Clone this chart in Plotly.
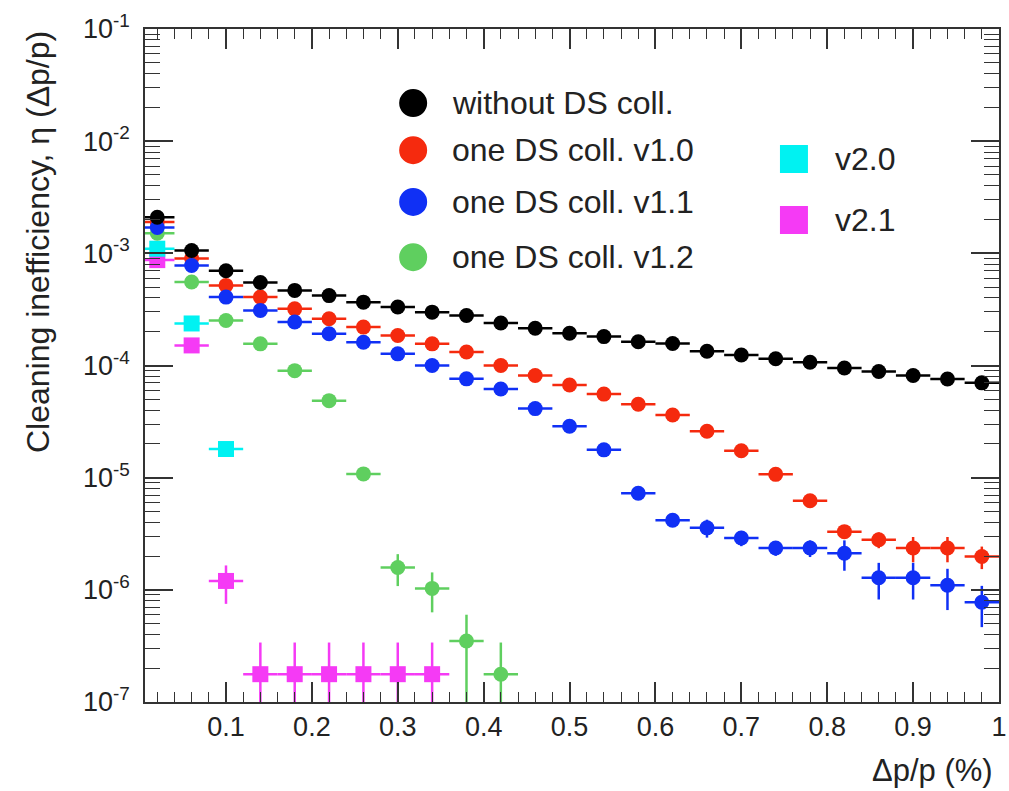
import plotly.graph_objects as go

# ---------------- data ----------------
x_bins = [0.02, 0.06, 0.10, 0.14, 0.18, 0.22, 0.26, 0.30, 0.34, 0.38, 0.42, 0.46, 0.50,
          0.54, 0.58, 0.62, 0.66, 0.70, 0.74, 0.78, 0.82, 0.86, 0.90, 0.94, 0.98]
x_half_width = 0.02

without_ds = [2.1e-3, 1.06e-3, 7.0e-4, 5.5e-4, 4.67e-4, 4.2e-4, 3.67e-4, 3.32e-4, 2.99e-4,
              2.79e-4, 2.39e-4, 2.15e-4, 1.94e-4, 1.81e-4, 1.63e-4, 1.57e-4, 1.34e-4,
              1.24e-4, 1.15e-4, 1.07e-4, 9.5e-5, 8.84e-5, 8.14e-5, 7.59e-5, 7.0e-5]
without_ds_err = [0] * 25

v10 = [1.9e-3, 9.0e-4, 5.18e-4, 4.07e-4, 3.2e-4, 2.61e-4, 2.2e-4, 1.85e-4, 1.56e-4, 1.32e-4,
       1.0e-4, 8.14e-5, 6.7e-5, 5.56e-5, 4.52e-5, 3.62e-5, 2.59e-5, 1.74e-5, 1.07e-5,
       6.23e-6, 3.3e-6, 2.8e-6, 2.36e-6, 2.36e-6, 1.98e-6]
v10_err = [0, 0, 0, 0, 0, 0, 0, 0, 0, 0, 0, 0, 0, 0, 0, 0, 0, 0.5e-6, 0.4e-6, 0.35e-6,
           0.3e-6, 0.45e-6, 0.6e-6, 0.6e-6, 0.45e-6]

v11 = [1.7e-3, 7.8e-4, 4.07e-4, 3.1e-4, 2.44e-4, 1.92e-4, 1.61e-4, 1.27e-4, 1.0e-4, 7.6e-5,
       6.17e-5, 4.13e-5, 2.87e-5, 1.77e-5, 7.26e-6, 4.17e-6, 3.57e-6, 2.9e-6, 2.36e-6,
       2.36e-6, 2.12e-6, 1.28e-6, 1.28e-6, 1.1e-6, 7.75e-7]
v11_err = [0, 0, 0, 0, 0, 0, 0, 0, 0, 0, 0, 0, 0, 0, 0.6e-6, 0.5e-6, 0.65e-6, 0.45e-6,
           0.35e-6, 0.4e-6, 0.64e-6, 0.46e-6, 0.46e-6, 0.44e-6, 0.31e-6]

x_v12 = [0.02, 0.06, 0.10, 0.14, 0.18, 0.22, 0.26, 0.30, 0.34, 0.38, 0.42]
v12 = [1.51e-3, 5.55e-4, 2.52e-4, 1.56e-4, 9.0e-5, 4.86e-5, 1.08e-5, 1.58e-6, 1.03e-6,
       3.5e-7, 1.77e-7]
v12_err = [0, 0, 0, 0, 0, 0, 0, 0.5e-6, 0.4e-6, 2.5e-7, 1.62e-7]

x_v20 = [0.02, 0.06, 0.10]
v20 = [1.1e-3, 2.37e-4, 1.8e-5]
v20_err = [0, 0, 0]

x_v21 = [0.02, 0.06, 0.10, 0.14, 0.18, 0.22, 0.26, 0.30, 0.34]
v21 = [8.7e-4, 1.51e-4, 1.2e-6, 1.77e-7, 1.77e-7, 1.77e-7, 1.77e-7, 1.77e-7, 1.77e-7]
v21_err = [0, 0, 0.45e-6, 1.62e-7, 1.62e-7, 1.62e-7, 1.62e-7, 1.62e-7, 1.62e-7]

y_tick_vals = [1e-7, 1e-6, 1e-5, 1e-4, 1e-3, 1e-2, 1e-1]
y_tick_text = ["10<sup>-7</sup>", "10<sup>-6</sup>", "10<sup>-5</sup>", "10<sup>-4</sup>",
               "10<sup>-3</sup>", "10<sup>-2</sup>", "10<sup>-1</sup>"]
x_tick_vals = [0.1, 0.2, 0.3, 0.4, 0.5, 0.6, 0.7, 0.8, 0.9, 1.0]
x_tick_text = ["0.1", "0.2", "0.3", "0.4", "0.5", "0.6", "0.7", "0.8", "0.9", "1"]

# ---------------- style ----------------
BLACK = "#000000"
RED = "#f52a0e"
BLUE = "#1030f5"
GREEN = "#5fcf5f"
CYAN = "#00f2f2"
MAGENTA = "#f53af5"
FONT = "Liberation Sans, Arial, Helvetica, sans-serif"

fig = go.Figure()


def add_series(x, y, yerr, color, symbol, size, name):
    fig.add_trace(go.Scatter(
        x=x, y=y, mode="markers", name=name, showlegend=False,
        marker=dict(color=color, symbol=symbol, size=size, line=dict(width=0)),
        error_x=dict(type="constant", value=x_half_width, color=color, thickness=2.5, width=0),
        error_y=dict(type="data", array=yerr, color=color, thickness=2.5, width=0, visible=True),
    ))


add_series(x_v21, v21, v21_err, MAGENTA, "square", 16, "v2.1")
add_series(x_v20, v20, v20_err, CYAN, "square", 16, "v2.0")
add_series(x_v12, v12, v12_err, GREEN, "circle", 15, "one DS coll. v1.2")
add_series(x_bins, v10, v10_err, RED, "circle", 15, "one DS coll. v1.0")
add_series(x_bins, v11, v11_err, BLUE, "circle", 15, "one DS coll. v1.1")
add_series(x_bins, without_ds, without_ds_err, BLACK, "circle", 15, "without DS coll.")

minor_y = [m * 10.0 ** e for e in range(-7, -1) for m in range(2, 10)]

fig.update_layout(
    width=1009, height=791,
    margin=dict(l=145, r=2, t=29, b=89),
    paper_bgcolor="white", plot_bgcolor="white",
    font=dict(family=FONT, size=27, color="black"),
    showlegend=False,
    xaxis=dict(
        range=[0.0057, 1.0], showgrid=False, zeroline=False,
        showline=True, linecolor="#333333", linewidth=1.5, mirror="ticks",
        ticks="inside", ticklen=20, tickwidth=1.5, tickcolor="#333333",
        tickmode="array", tickvals=x_tick_vals, ticktext=x_tick_text,
        tickfont=dict(size=27, family=FONT, color="#222222"),
        ticklabeloverflow="allow",
        minor=dict(ticks="inside", ticklen=10, tickwidth=1.2, tickcolor="#333333",
                   dtick=0.02, tick0=0, showgrid=False),
    ),
    yaxis=dict(
        type="log", range=[-7, -1], showgrid=False, zeroline=False,
        showline=True, linecolor="#333333", linewidth=1.5, mirror="ticks",
        ticks="inside", ticklen=28, tickwidth=1.5, tickcolor="#333333",
        tickmode="array", tickvals=y_tick_vals, ticktext=y_tick_text,
        tickfont=dict(size=27, family=FONT, color="#222222"),
        ticklabelstandoff=8,
        minor=dict(ticks="inside", ticklen=15, tickwidth=1.2, tickcolor="#333333",
                   tickmode="array", tickvals=minor_y, showgrid=False),
    ),
)

# axis titles (ROOT style: aligned to the end of the axis)
fig.add_annotation(text="Cleaning inefficiency, \u03b7 (\u0394p/p)", xref="paper", yref="paper",
                   x=-0.1253, y=1.0, xanchor="center", yanchor="top", textangle=-90,
                   showarrow=False, font=dict(size=32, family=FONT, color="#222222"))
fig.add_annotation(text="\u0394p/p (%)", xref="paper", yref="paper",
                   x=0.9954, y=-0.1025, xanchor="right", yanchor="middle",
                   showarrow=False, font=dict(size=31, family=FONT, color="#222222"))

# legend (drawn manually with large ROOT-like symbols)
legend_left = [("without DS coll.", BLACK, 0.890), ("one DS coll. v1.0", RED, 0.820),
               ("one DS coll. v1.1", BLUE, 0.743), ("one DS coll. v1.2", GREEN, 0.661)]
for label, color, yp in legend_left:
    fig.add_shape(type="circle", xref="paper", yref="paper",
                  xsizemode="pixel", ysizemode="pixel", xanchor=0.3140, yanchor=yp,
                  x0=-14, x1=14, y0=-14, y1=14, fillcolor=color, line=dict(width=0))
    fig.add_annotation(text=label, xref="paper", yref="paper", x=0.3573, y=yp,
                       xanchor="left", yanchor="middle", showarrow=False,
                       font=dict(size=32, family=FONT, color="#222222"))

legend_right = [("v2.0", CYAN, 0.8068), ("v2.1", MAGENTA, 0.7162)]
for label, color, yp in legend_right:
    fig.add_shape(type="rect", xref="paper", yref="paper",
                  xsizemode="pixel", ysizemode="pixel", xanchor=0.7599, yanchor=yp,
                  x0=-14, x1=14, y0=-14, y1=14, fillcolor=color, line=dict(width=0))
    fig.add_annotation(text=label, xref="paper", yref="paper", x=0.8051, y=yp,
                       xanchor="left", yanchor="middle", showarrow=False,
                       font=dict(size=32, family=FONT, color="#222222"))

# remove the default 8px page margin so the figure fills the window exactly
fig.write_html("out.html",
               config={"displayModeBar": False},
               post_script="document.body.style.margin='0';document.body.style.overflow='hidden';")
